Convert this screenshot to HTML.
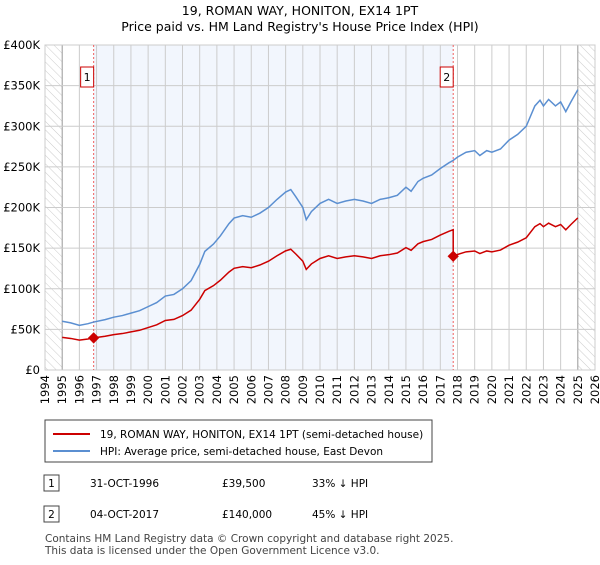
<!DOCTYPE html>
<html><head><meta charset="utf-8"><style>
body{margin:0;background:#fff;font-family:"Liberation Sans","DejaVu Sans",sans-serif;}
svg text{font-family:"DejaVu Sans","Liberation Sans",sans-serif;}
</style></head><body>
<svg width="600" height="560" xmlns="http://www.w3.org/2000/svg" id="chart">
<defs><pattern id="hatch" width="6" height="6" patternUnits="userSpaceOnUse" patternTransform="rotate(-45)"><line x1="0" y1="0" x2="0" y2="6" stroke="#ccc" stroke-width="1"/></pattern></defs>
<text x="300" y="15" text-anchor="middle" font-size="12.5">19, ROMAN WAY, HONITON, EX14 1PT</text>
<text x="300" y="31" text-anchor="middle" font-size="12.5">Price paid vs. HM Land Registry's House Price Index (HPI)</text>
<g id="plot"></g>
<g>
<rect x="45" y="420" width="387" height="42" fill="#fff" stroke="#444"/>
<line x1="53" y1="434" x2="90" y2="434" stroke="#cc0000" stroke-width="2"/>
<text x="100" y="438" font-size="10.5">19, ROMAN WAY, HONITON, EX14 1PT (semi-detached house)</text>
<line x1="53" y1="451" x2="90" y2="451" stroke="#5b8fd1" stroke-width="2"/>
<text x="100" y="455" font-size="10.5">HPI: Average price, semi-detached house, East Devon</text>
</g>
<g font-size="10.5">
<rect x="44" y="475" width="15" height="16" fill="#fff" stroke="#444"/><text x="51.5" y="487" text-anchor="middle">1</text>
<text x="90" y="487">31-OCT-1996</text><text x="222" y="487">£39,500</text><text x="312" y="487">33% ↓ HPI</text>
<rect x="44" y="506" width="15" height="16" fill="#fff" stroke="#444"/><text x="51.5" y="518" text-anchor="middle">2</text>
<text x="90" y="518">04-OCT-2017</text><text x="222" y="518">£140,000</text><text x="312" y="518">45% ↓ HPI</text>
</g>
<text x="45" y="542" font-size="10.5" fill="#444">Contains HM Land Registry data © Crown copyright and database right 2025.</text>
<text x="45" y="554" font-size="10.5" fill="#444">This data is licensed under the Open Government Licence v3.0.</text>
</svg>
<script>
const hpiYears=[1995.0,1995.5,1996.0,1996.5,1996.83,1997.5,1998.0,1998.5,1999.0,1999.5,2000.0,2000.5,2001.0,2001.5,2002.0,2002.5,2003.0,2003.3,2003.8,2004.2,2004.7,2005.0,2005.5,2006.0,2006.5,2007.0,2007.5,2008.0,2008.3,2008.6,2009.0,2009.2,2009.5,2010.0,2010.5,2011.0,2011.5,2012.0,2012.5,2013.0,2013.5,2014.0,2014.5,2015.0,2015.3,2015.7,2016.0,2016.5,2017.0,2017.5,2017.75,2018.0,2018.5,2019.0,2019.3,2019.7,2020.0,2020.5,2021.0,2021.5,2022.0,2022.5,2022.8,2023.0,2023.3,2023.7,2024.0,2024.3,2024.6,2025.0];
const hpiValues=[60,58,55,57,59,62,65,67,70,73,78,83,91,93,100,110,130,146,155,165,180,187,190,188,193,200,210,219,222,213,200,185,195,205,210,205,208,210,208,205,210,212,215,225,220,232,236,240,248,255,258,262,268,270,264,270,268,272,283,290,300,325,332,325,333,325,330,318,330,345];
const saleYears=[1996.83,2017.75];
const salePrices=[39.5,140];
const yTicks=[0,50,100,150,200,250,300,350,400];
const xTicks=[1994,1995,1996,1997,1998,1999,2000,2001,2002,2003,2004,2005,2006,2007,2008,2009,2010,2011,2012,2013,2014,2015,2016,2017,2018,2019,2020,2021,2022,2023,2024,2025,2026];
const NS='http://www.w3.org/2000/svg';
const X0=45,X1=595,Y0=370,Y1=45;
const xs=y=>X0+(y-1994)/(2026-1994)*(X1-X0);
const ys=v=>Y0-v/400*(Y0-Y1);
const g=document.getElementById('plot');
function mk(t,a){const e=document.createElementNS(NS,t);for(const k in a)e.setAttribute(k,a[k]);g.appendChild(e);return e;}
function interp(x){for(let i=0;i<hpiYears.length-1;i++){if(x>=hpiYears[i]&&x<=hpiYears[i+1]){const t=(x-hpiYears[i])/(hpiYears[i+1]-hpiYears[i]);return hpiValues[i]+t*(hpiValues[i+1]-hpiValues[i]);}}return hpiValues[hpiValues.length-1];}
let e;
e=mk('rect',{x:xs(saleYears[0]),y:Y1,width:xs(saleYears[1])-xs(saleYears[0]),height:Y0-Y1,fill:'#f2f6fd'});


e=mk('rect',{x:X0,y:Y1,width:xs(1995)-X0,height:Y0-Y1,fill:'url(#hatch)'});


e=mk('rect',{x:xs(2025),y:Y1,width:X1-xs(2025),height:Y0-Y1,fill:'url(#hatch)'});


xTicks.forEach(t=>{
 e=mk('line',{x1:xs(t),x2:xs(t),y1:Y1,y2:Y0,stroke:(t==1995||t==2025)?'#999':'#ccc','stroke-width':1});
 
 
 e=mk('text',{x:0,y:0,'font-size':11.5,'text-anchor':'end',transform:`translate(${xs(t)+4},375) rotate(-90)`});
 e.textContent=t;
 
 
});
yTicks.forEach(v=>{
 e=mk('line',{x1:X0,x2:X1,y1:ys(v),y2:ys(v),stroke:'#ccc','stroke-width':1});
 
 
 e=mk('text',{x:40,y:ys(v)+4,'font-size':11.5,'text-anchor':'end'});
 e.textContent=v==0?'£0':'£'+v+'K';
 
 
});
e=mk('rect',{x:X0,y:Y1,width:X1-X0,height:Y0-Y1,fill:'none',stroke:'#ccc'});


saleYears.forEach((s,i)=>{
 e=mk('line',{x1:xs(s),x2:xs(s),y1:Y1,y2:Y0,stroke:'#f06060','stroke-dasharray':'2,2','stroke-width':1});
 
 
 e=mk('rect',{x:xs(s)-13,y:67,width:13,height:20,fill:'#fff',stroke:'#cc0000'});
 
 
 e=mk('text',{x:xs(s)-6.5,y:81,'font-size':11,'text-anchor':'middle'});
 e.textContent=String(i+1);
 
 
});
e=mk('polyline',{points:hpiYears.map((y,i)=>xs(y)+','+ys(hpiValues[i])).join(' '),fill:'none',stroke:'#5b8fd1','stroke-width':1.5});


const pts=[];
hpiYears.forEach((y,i)=>{
 let v;
 if(y<saleYears[1]) v=hpiValues[i]*salePrices[0]/interp(saleYears[0]);
 else v=hpiValues[i]*salePrices[1]/interp(saleYears[1]);
 if(y>=saleYears[1]&&pts.length&&!pts.done){pts.push(xs(saleYears[1])+','+ys(interp(saleYears[1])*salePrices[0]/interp(saleYears[0])));pts.push(xs(saleYears[1])+','+ys(salePrices[1]));pts.done=true;}
 pts.push(xs(y)+','+ys(v));
});
e=mk('polyline',{points:pts.join(' '),fill:'none',stroke:'#cc0000','stroke-width':1.5});


saleYears.forEach((s,i)=>{
 e=mk('rect',{x:xs(s)-4,y:ys(salePrices[i])-4,width:8,height:8,fill:'#cc0000',transform:`rotate(45 ${xs(s)} ${ys(salePrices[i])})`});
 
 
});
</script>
</body></html>
